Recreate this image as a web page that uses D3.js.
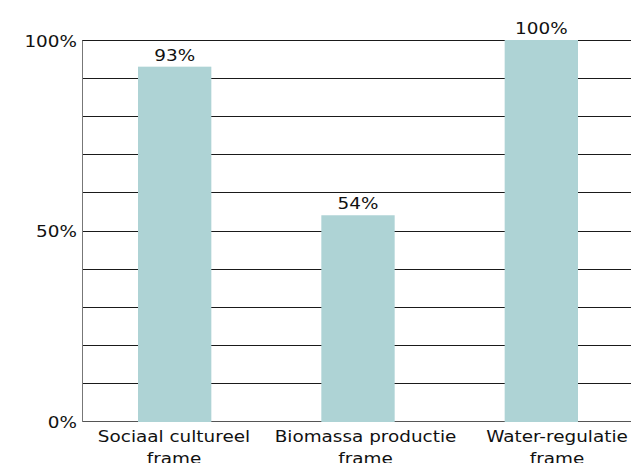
<!DOCTYPE html>
<html lang="nl">
<head>
    <meta charset="UTF-8">
    <title>Frames</title>
    <style>
        body { margin: 0; background: #fff; }
        text { font-family: "DejaVu Sans", Verdana, sans-serif; font-size: 16px; fill: #111; }
    </style>
    <script src="https://cdn.jsdelivr.net/npm/d3@7/dist/d3.min.js"></script>
</head>
<body>
    <script>
        const categories = [['Sociaal cultureel', 'frame'], ['Biomassa productie', 'frame'], ['Water-regulatie', 'frame']]
        const values = [93, 54, 100]
        const gridValues = [0, 10, 20, 30, 40, 50, 60, 70, 80, 90, 100]
        const tickValues = [0, 50, 100]

        const width = 631
        const height = 463
        const stretch = 1.15   // text in the original is a bit wider than it is tall

        const svg = d3.select('body').append('svg').attr('width', width).attr('height', height)

        const keys = categories.map(c => c.join(' '))
        const x = d3.scaleBand().domain(keys).range([83, 633]).paddingInner(0.6).paddingOuter(0.3)
        // category labels sit slightly further apart than the bars
        const xl = d3.scalePoint().domain(keys).range([174, 557])
        const y = d3.scaleLinear().domain([0, 100]).range([421, 40])
        const crisp = v => Math.round(y(v)) + 0.5

        // grid
        svg.append('g').selectAll('line')
            .data(gridValues)
            .enter()
            .append('line')
            .attr('x1', 82).attr('x2', width)
            .attr('y1', d => crisp(d)).attr('y2', d => crisp(d))
            .attr('stroke', d => d === 0 ? '#555' : '#1a1a1a')
            .attr('stroke-width', 1)

        // y axis line
        svg.append('line')
            .attr('x1', 82.5).attr('x2', 82.5)
            .attr('y1', crisp(100)).attr('y2', crisp(0) + 0.5)
            .attr('stroke', '#777')

        // y tick labels
        svg.append('g').selectAll('text')
            .data(tickValues)
            .enter()
            .append('text')
            .attr('text-anchor', 'end')
            .attr('dominant-baseline', 'central')
            .attr('transform', d => `translate(77, ${y(d) + 1}) scale(${stretch}, 1)`)
            .text(d => d + '%')

        // bars
        svg.append('g').selectAll('rect')
            .data(values)
            .enter()
            .append('rect')
            .attr('x', (d, i) => x(keys[i]))
            .attr('width', x.bandwidth())
            .attr('y', d => y(d))
            .attr('height', d => y(0) - y(d) + 1)
            .attr('fill', '#aed3d5')

        // value labels
        svg.append('g').selectAll('text')
            .data(values)
            .enter()
            .append('text')
            .attr('text-anchor', 'middle')
            .attr('transform', (d, i) => `translate(${x(keys[i]) + x.bandwidth() / 2}, ${y(d) - 6}) scale(${stretch}, 1)`)
            .text(d => d + '%')

        // category labels
        const cat = svg.append('g').selectAll('text')
            .data(categories)
            .enter()
            .append('text')
            .attr('text-anchor', 'middle')
            .attr('transform', (d, i) => `translate(${xl(keys[i])}, 442) scale(${stretch}, 1)`)
        cat.selectAll('tspan')
            .data(d => d)
            .enter()
            .append('tspan')
            .attr('x', 0)
            .attr('y', (d, i) => i * 22)
            .text(d => d)
    </script>
</body>
</html>
